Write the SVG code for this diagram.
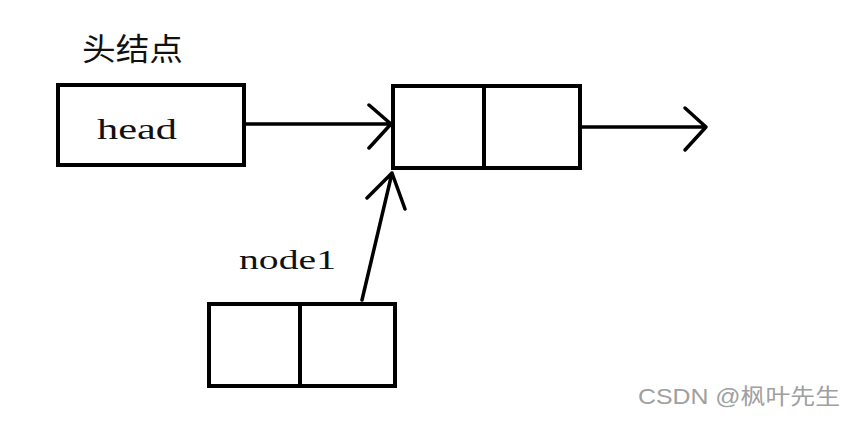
<svg xmlns="http://www.w3.org/2000/svg" width="865" height="423" viewBox="0 0 865 423">
<style>
.box{fill:#fff;stroke:#000;stroke-width:4}
.div{stroke:#000;stroke-width:4}
.edge{fill:none;stroke:#000;stroke-width:3.5;stroke-linecap:round;stroke-linejoin:round}
.lbl{font-family:"Liberation Serif","Times New Roman",serif;fill:#111}
.cjk{font-family:"Noto Sans CJK SC",sans-serif;fill:#111}
.wm{font-family:"Liberation Sans","Noto Sans CJK SC",sans-serif;fill:#a0a0a0;font-size:22px}
</style>
<rect width="865" height="423" fill="#fff"/>
<g id="head-label"><text class="cjk" x="82" y="60" font-size="31" textLength="101" lengthAdjust="spacingAndGlyphs">头结点</text></g>
<g id="head">
<rect class="box" x="58" y="85" width="186" height="80"/>
<text class="lbl" x="97" y="139" font-size="30" textLength="80" lengthAdjust="spacingAndGlyphs">head</text>
</g>
<g id="node">
<rect class="box" x="393" y="86" width="187" height="82"/>
<line class="div" x1="484" y1="86" x2="484" y2="168"/>
</g>
<g id="node1">
<text class="lbl" x="239" y="269" font-size="27" textLength="97" lengthAdjust="spacingAndGlyphs">node1</text>
<rect class="box" x="209" y="304" width="186" height="82"/>
<line class="div" x1="300" y1="304" x2="300" y2="386"/>
</g>
<g id="connectors">
<path class="edge" d="M246 124 H391 M369 105 L391 124 L369 148"/>
<path class="edge" d="M582 127 H706 M685 108 L706 127 L685 150"/>
<path class="edge" d="M362 300 L392 173 M367 198 L392 173 L405 209"/>
</g>
<text class="wm" x="638" y="404" textLength="202" lengthAdjust="spacingAndGlyphs">CSDN @枫叶先生</text>
</svg>
